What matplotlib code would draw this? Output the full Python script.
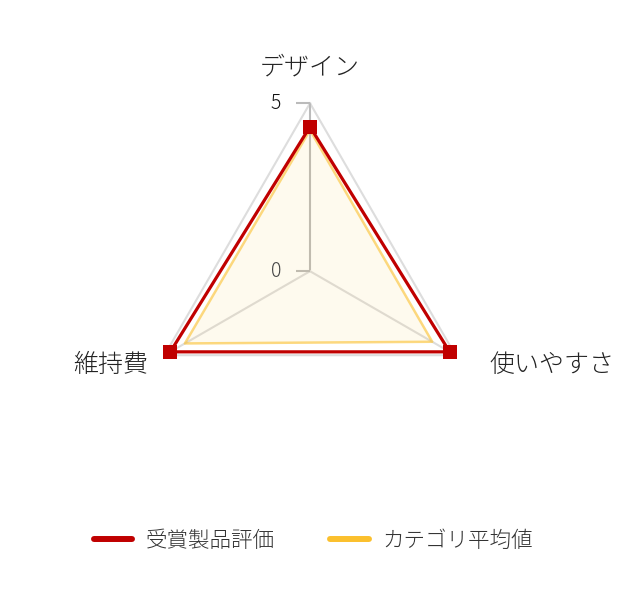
import numpy as np
import matplotlib.pyplot as plt

plt.rcParams["font.family"] = ["Noto Sans CJK JP", "DejaVu Sans"]
plt.rcParams["font.weight"] = "light"

categories = ["デザイン", "使いやすさ", "維持費"]
award_scores = [4.3, 4.8, 4.8]
category_avg = [4.2, 4.2, 4.3]
series_names = ["受賞製品評価", "カテゴリ平均値"]
r_ticks = [0, 5]

RED = "#c00000"
YELLOW = "#fbc02d"

angles = np.linspace(0, 2 * np.pi, len(categories), endpoint=False)
closed = np.append(angles, angles[0])


def close(vals):
    return np.append(vals, vals[0])


fig = plt.figure(figsize=(6.2, 6.0), dpi=100)
ax = fig.add_axes([0.229, 0.268, 0.542, 0.56], projection="polar")
ax.set_theta_offset(np.pi / 2)
ax.set_theta_direction(-1)
ax.set_ylim(0, 5)
ax.grid(False)
ax.spines["polar"].set_visible(False)
ax.set_xticks([])
ax.set_yticks([])
ax.patch.set_alpha(0)

# outer grid and spokes
ax.plot(closed, close([5] * len(categories)), color="#dddddd", lw=1.5, zorder=1,
        clip_on=False)
for i, a in enumerate(angles):
    ax.plot([a, a], [0, 5], color="#bbbbbb" if i == 0 else "#dddddd", lw=1.5, zorder=1)

# category average
ax.fill(closed, close(category_avg), color=YELLOW, alpha=0.08, lw=0, zorder=2)
ax.plot(closed, close(category_avg), color=YELLOW, alpha=0.6, lw=1.8, zorder=3)

# award product
ax.plot(closed, close(award_scores), color=RED, lw=2.3, zorder=4, clip_on=False)
ax.plot(angles, award_scores, ls="none", marker="s", ms=9.5, mew=0, color=RED,
        zorder=5, clip_on=False)

# value axis ticks
for r in r_ticks:
    ax.plot([0], [r], marker=[(-1, 0), (0, 0)], ms=20, mew=1.5, color="#bbbbbb",
            ls="none", zorder=1, clip_on=False)
    ax.annotate(str(r), xy=(0, r), xytext=(-29, 0), textcoords="offset pixels",
                ha="right", va="center", fontsize=14,
                color="#111111" if r == 5 else "#444444")

# category labels
offsets = [(0, 36, "center"), (34, -10, "left"), (-16, -10, "right")]
for a, name, (dx, dy, ha) in zip(angles, categories, offsets):
    ax.annotate(name, xy=(a, 5), xytext=(dx, dy), textcoords="offset pixels",
                ha=ha, va="center", fontsize=18, color="#222222",
                annotation_clip=False)

handles = [
    plt.Line2D([], [], color=RED, lw=4.3, solid_capstyle="round"),
    plt.Line2D([], [], color=YELLOW, lw=4.3, solid_capstyle="round"),
]
fig.legend(handles, series_names, loc="center", bbox_to_anchor=(0.505, 1 - 541 / 600),
           ncol=2, frameon=False, fontsize=15.5, handlelength=1.8,
           handletextpad=0.6, columnspacing=2.6, labelcolor="#333333")

fig.savefig("out.png", dpi=100)
